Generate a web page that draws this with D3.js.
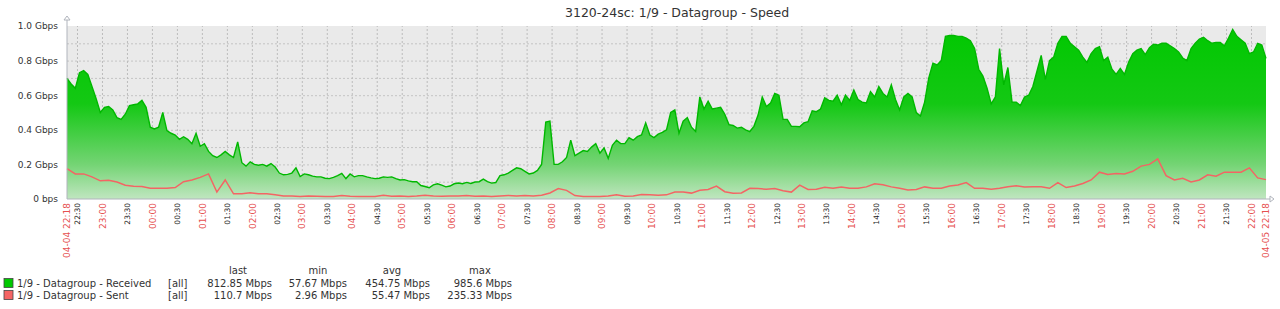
<!DOCTYPE html>
<html>
<head>
<meta charset="utf-8">
<script src="https://cdn.jsdelivr.net/npm/d3@7"></script>
<style>
body { margin: 0; background: #fff; }
svg { display: block; font-family: "DejaVu Sans", sans-serif; }
</style>
</head>
<body>
<svg id="chart" width="1280" height="309"></svg>
<script>
// ---- data ----
const title = "3120-24sc: 1/9 - Datagroup - Speed";
const startTime = new Date(2016, 3, 4, 22, 18);
const endTime = new Date(2016, 3, 5, 22, 18);

// Mbps, one value every 5 minutes
const receivedStep = 5;
const received = [
  697, 665, 640, 730, 742, 720, 650, 580, 500, 530,
  535, 515, 470, 460, 490, 540, 545, 550, 570, 530,
  415, 405, 415, 500, 395, 380, 370, 345, 360, 345,
  320, 380, 305, 320, 275, 250, 240, 255, 275, 255,
  240, 330, 210, 190, 215, 200, 195, 200, 190,
  205, 185, 150, 140, 142, 150, 180, 130, 145, 140,
  132, 128, 128, 120, 118, 125, 135, 148, 118, 145,
  128, 135, 135, 128, 122, 118, 120, 128, 125, 128,
  118, 110, 112, 105, 100, 100, 78, 72, 65, 82,
  88, 80, 70, 75, 88, 92, 88, 96,
  90, 98, 100, 115, 100, 92, 95, 135, 140, 150,
  165, 180, 175, 160, 145, 150, 165, 200, 445, 450,
  200, 200, 215, 240, 340, 250, 265, 280, 275, 300,
  320, 265, 295, 235, 310, 340, 320, 320, 355, 340,
  360, 370, 440, 370, 355, 375, 385, 400,
  500, 515, 380, 450, 470, 415, 390, 590, 520, 565,
  520, 525, 530, 490, 430, 425, 410, 415, 400, 390,
  420, 485, 590, 535, 555, 610, 600, 460, 460, 420,
  420, 418, 440, 447, 510, 505, 520, 585, 570, 565,
  600, 545, 600, 570, 630, 575, 560, 555,
  620, 590, 650, 610, 590, 660, 575, 515, 590, 610,
  590, 500, 480, 560, 700, 785, 775, 800, 940, 945,
  945, 940, 940, 930, 915, 870, 750, 710, 640, 550,
  590, 870, 660, 760, 560, 560, 540, 590, 600, 650,
  740, 830, 690, 800, 820, 900, 940, 940,
  900, 880, 860, 820, 790, 840, 870, 880, 800, 820,
  750, 720, 755, 720, 790, 840, 860, 870, 835, 875,
  895, 890, 900, 900, 885, 870, 850, 815, 800, 870,
  900, 925, 935, 915, 900, 905, 905, 885, 930, 980,
  940, 920, 900, 840, 850, 900, 890, 813
];

// Mbps, one value every 10 minutes
const sentStep = 10;
const sent = [
  175, 145, 145, 128, 105, 108, 98, 80, 74, 72,
  62, 62, 62, 66, 100, 110, 125, 145, 40, 110,
  30, 30, 36, 30, 30,
  24, 18, 17, 15, 18, 16, 14, 15, 20, 16,
  14, 15, 14, 22, 16, 18, 14, 17, 22, 18,
  16, 18, 17, 20,
  16, 18, 15, 17, 20, 18, 20, 18, 22, 35,
  60, 50, 20, 15, 15, 14, 18, 25, 16, 18,
  26, 25, 22, 24,
  40, 40, 34, 50, 55, 75, 42, 33, 35, 62,
  60, 56, 60, 48, 40, 80, 55, 56, 68, 62,
  70, 62, 62, 70,
  88, 82, 70, 62, 52, 55, 70, 62, 62, 75,
  81, 95, 62, 62, 56, 62, 71, 76, 70, 71,
  71, 62, 95, 66,
  75, 90, 110, 155, 142, 148, 145, 160, 190, 200,
  232, 135, 110, 120, 98, 110, 140, 132, 155, 155,
  155, 180, 122, 112
];

const yTicks = [0, 200, 400, 600, 800, 1000];
const yGrid = [100, 200, 300, 400, 500, 600, 700, 800, 900];

const legendNames = ["1/9 - Datagroup - Received", "1/9 - Datagroup - Sent"];
const legendColors = ["#00c800", "#f46464"];
const legendHeaders = ["last", "min", "avg", "max"];
const legendLast = ["812.85 Mbps", "110.7 Mbps"];
const legendMin = ["57.67 Mbps", "2.96 Mbps"];
const legendAvg = ["454.75 Mbps", "55.47 Mbps"];
const legendMax = ["985.6 Mbps", "235.33 Mbps"];

// ---- drawing ----
var svg = d3.select("#chart");
var plotLeft = 67, plotRight = 1266, plotTop = 26, plotBottom = 199;

var x = d3.scaleTime().domain([startTime, endTime]).range([plotLeft, plotRight]);
var y = d3.scaleLinear().domain([0, 1000]).range([plotBottom, plotTop]);

var recData = received.map((v, i) => ({t: d3.timeMinute.offset(startTime, i * receivedStep), v: v}));
var sentData = sent.map((v, i) => ({t: d3.timeMinute.offset(startTime, i * sentStep), v: v}));

var defs = svg.append("defs");
var grad = defs.append("linearGradient")
  .attr("id", "greenFill")
  .attr("gradientUnits", "userSpaceOnUse")
  .attr("x1", 0).attr("x2", 0)
  .attr("y1", y(1000)).attr("y2", y(0));
grad.append("stop").attr("offset", "0%").attr("stop-color", "#00c800");
grad.append("stop").attr("offset", "45%").attr("stop-color", "#14c814");
grad.append("stop").attr("offset", "80%").attr("stop-color", "#74d474");
grad.append("stop").attr("offset", "100%").attr("stop-color", "#c0e6c0");

// title
svg.append("text")
  .attr("x", 565).attr("y", 17)
  .attr("font-size", "12.5px")
  .attr("fill", "#333")
  .text(title);

// plot background
svg.append("rect")
  .attr("x", x(startTime)).attr("y", y(1000))
  .attr("width", x(endTime) - x(startTime))
  .attr("height", y(0) - y(1000))
  .attr("fill", "#eaeaea");

// horizontal grid
svg.append("g")
  .attr("class", "grid")
  .attr("transform", "translate(" + plotLeft + ",0)")
  .call(d3.axisLeft(y).tickValues(yGrid).tickSize(-(plotRight - plotLeft)).tickFormat(""))
  .call(g => g.select(".domain").remove())
  .selectAll("line")
  .attr("stroke", "#c4c4c4")
  .attr("stroke-dasharray", "2,2");

// vertical grid
svg.append("g")
  .attr("class", "grid")
  .attr("transform", "translate(0," + plotBottom + ")")
  .call(d3.axisBottom(x).ticks(d3.timeMinute.every(30)).tickSize(-(plotBottom - plotTop)).tickFormat(""))
  .call(g => g.select(".domain").remove())
  .selectAll("line")
  .attr("stroke", "#bcbcbc")
  .attr("stroke-dasharray", "2,2");

// received area + line
var area = d3.area()
  .x(d => x(d.t))
  .y0(y(0))
  .y1(d => y(d.v));
var line = d3.line()
  .x(d => x(d.t))
  .y(d => y(d.v));

svg.append("path")
  .datum(recData)
  .attr("d", area)
  .attr("fill", "url(#greenFill)");

svg.append("path")
  .datum(recData)
  .attr("d", line)
  .attr("fill", "none")
  .attr("stroke", "#00b800")
  .attr("stroke-width", 1.4);

svg.append("path")
  .datum(sentData)
  .attr("d", line)
  .attr("fill", "none")
  .attr("stroke", "#f46464")
  .attr("stroke-width", 1.5);

// axis lines + arrows
svg.append("line")
  .attr("x1", plotLeft).attr("x2", plotLeft)
  .attr("y1", plotTop - 8).attr("y2", plotBottom)
  .attr("stroke", "#b0b4bc");
svg.append("line")
  .attr("x1", plotLeft).attr("x2", plotRight + 6)
  .attr("y1", plotBottom).attr("y2", plotBottom)
  .attr("stroke", "#b0b4bc");
svg.append("path")
  .attr("d", "M" + (plotLeft - 3) + "," + (plotTop - 6) + "L" + plotLeft + "," + (plotTop - 10) + "L" + (plotLeft + 3) + "," + (plotTop - 6) + "Z")
  .attr("fill", "#fff").attr("stroke", "#b0b4bc");
svg.append("path")
  .attr("d", "M" + (plotRight + 4) + "," + (plotBottom - 3) + "L" + (plotRight + 8) + "," + plotBottom + "L" + (plotRight + 4) + "," + (plotBottom + 3) + "Z")
  .attr("fill", "#fff").attr("stroke", "#b0b4bc");

// y labels
svg.append("g")
  .attr("transform", "translate(" + plotLeft + ",0)")
  .call(d3.axisLeft(y).tickValues(yTicks).tickSize(0).tickPadding(9)
    .tickFormat(v => v === 0 ? "0 bps" : (v / 1000).toFixed(1) + " Gbps"))
  .call(g => g.select(".domain").remove())
  .selectAll("text")
  .attr("font-size", "9px")
  .attr("font-family", "DejaVu Sans")
  .attr("fill", "#333");

// x labels (rotated)
var red = "#e65050";
svg.append("g")
  .attr("transform", "translate(0," + plotBottom + ")")
  .call(d3.axisBottom(x).ticks(d3.timeMinute.every(30)).tickSize(0).tickFormat(d3.timeFormat("%H:%M")))
  .call(g => g.select(".domain").remove())
  .selectAll("text")
  .attr("transform", "rotate(-90)")
  .attr("x", -4).attr("y", 0).attr("dy", "0.35em")
  .style("text-anchor", "end")
  .attr("font-family", "DejaVu Sans")
  .attr("font-size", d => d.getMinutes() === 0 ? "9px" : "7.5px")
  .attr("fill", d => d.getMinutes() === 0 ? red : "#222");

svg.append("g")
  .selectAll("text")
  .data([startTime, endTime])
  .join("text")
  .attr("transform", d => "translate(" + x(d) + "," + (plotBottom + 4) + ") rotate(-90)")
  .attr("dy", "0.35em")
  .attr("text-anchor", "end")
  .attr("font-size", "9px")
  .attr("fill", red)
  .text(d3.timeFormat("%m-%d %H:%M"));

// legend
var legend = svg.append("g").attr("font-size", "10px").attr("fill", "#333");
var headerX = [238, 318, 392, 480];
legend.selectAll(".hdr")
  .data(legendHeaders)
  .join("text")
  .attr("class", "hdr")
  .attr("x", (d, i) => headerX[i]).attr("y", 274)
  .attr("text-anchor", "middle")
  .text(d => d);

var rowY = [283, 295];
var cols = [legendLast, legendMin, legendAvg, legendMax];
var colRight = [272, 347, 430, 512];
legendNames.forEach(function(name, r) {
  legend.append("rect")
    .attr("x", 4).attr("y", rowY[r] - 4.5)
    .attr("width", 9).attr("height", 9)
    .attr("fill", legendColors[r])
    .attr("stroke", "#444").attr("stroke-width", 0.8);
  legend.append("text").attr("x", 17).attr("y", rowY[r] + 3.5).text(name);
  legend.append("text").attr("x", 168).attr("y", rowY[r] + 3.5).text("[all]");
  cols.forEach(function(col, c) {
    legend.append("text")
      .attr("x", colRight[c]).attr("y", rowY[r] + 3.5)
      .attr("text-anchor", "end")
      .text(col[r]);
  });
});
</script>
</body>
</html>
